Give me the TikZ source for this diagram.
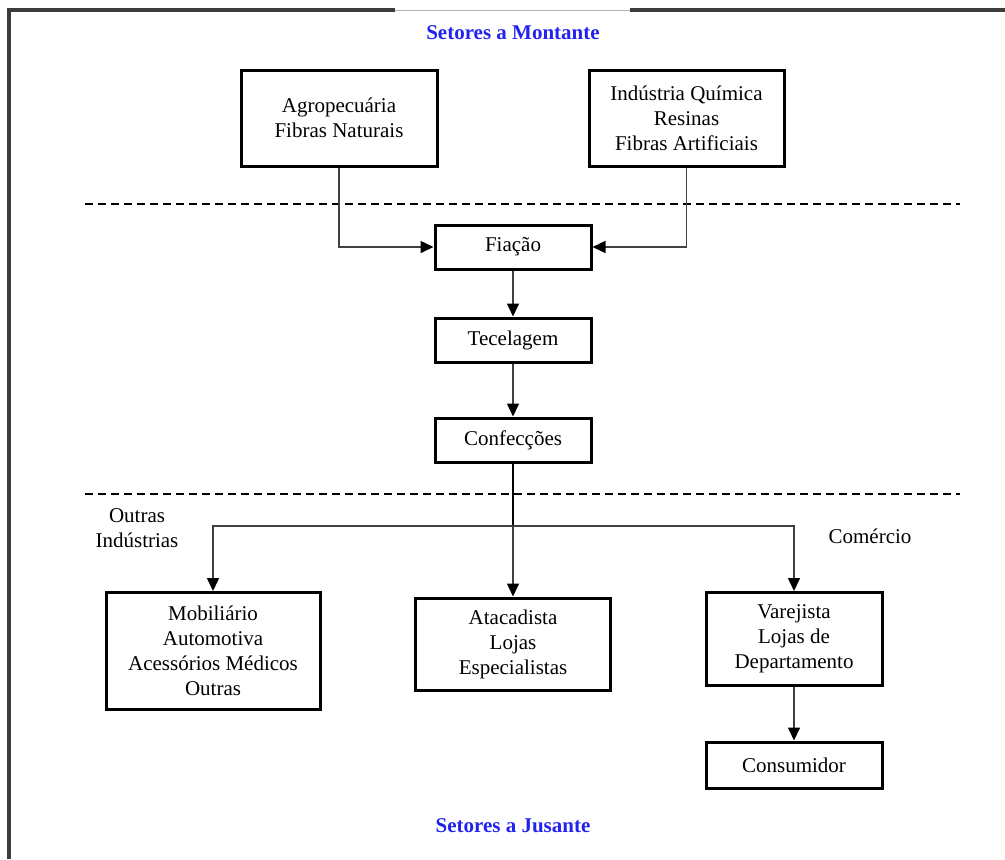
\documentclass[tikz,border=0pt]{standalone}
\usepackage{fontspec}
\setmainfont{Liberation Serif}
\usetikzlibrary{arrows.meta}
\definecolor{titleblue}{RGB}{35,35,240}
\definecolor{framegray}{RGB}{60,60,60}

\begin{document}
\begin{tikzpicture}[x=0.5pt, y=-0.5pt, >={Triangle[length=6.5pt,width=6pt,color=black]},
    font=\fontsize{10.5}{12.5}\selectfont,
    box/.style={draw, line width=1.5pt, align=center, inner sep=0pt},
    link/.style={->, line width=0.75pt, draw=black!75},
    title/.style={text=titleblue, font=\fontsize{10.5}{12.5}\selectfont\bfseries},
    sep/.style={dashed, line width=0.7pt, dash pattern=on 4pt off 2.5pt}]
  \useasboundingbox (0,0) rectangle (1005,859);
  % Frame
  \draw[framegray, line width=1.7pt] (9,859) -- (9,10) -- (395,10);
  \draw[framegray, line width=1.7pt] (630,10) -- (1005,10);
  \draw[black!30, line width=0.4pt] (395,10) -- (630,10);
  % Titles
  \node[title] (montante) at (513,33) {Setores a Montante};
  \node[title] (jusante) at (513,826) {Setores a Jusante};
  % Upstream sectors
  \node[box, minimum width=98pt, minimum height=48pt] (agro) at (339,118)
    {Agropecuária\\Fibras Naturais};
  \node[box, minimum width=97.5pt, minimum height=48pt] (quim) at (686.5,118)
    {Indústria Química\\Resinas\\Fibras Artificiais};
  % Main chain
  \node[box, minimum width=78pt, minimum height=22pt] (fiacao) at (513,247) {Fiação};
  \node[box, minimum width=78pt, minimum height=22pt] (tecel) at (513,340) {Tecelagem};
  \node[box, minimum width=78pt, minimum height=22pt] (confec) at (513,440) {Confecções};
  % Downstream sectors
  \node[box, minimum width=107pt, minimum height=58.5pt] (mobil) at (213,651)
    {Mobiliário\\Automotiva\\Acessórios Médicos\\Outras};
  \node[box, minimum width=97.5pt, minimum height=46pt] (atac) at (513,644)
    {Atacadista\\Lojas\\Especialistas};
  \node[box, minimum width=88pt, minimum height=46.5pt] (varej) at (794,639)
    {Varejista\\Lojas de\\Departamento};
  \node[box, minimum width=88pt, minimum height=23pt] (consum) at (794,765) {Consumidor};
  % Side labels
  \node[align=center] (outras) at (137,528) {Outras\\Indústrias};
  \node (comercio) at (870,536) {Comércio};
  % Separators
  \draw[sep] (85,204) -- (960,204);
  \draw[sep] (85,494) -- (960,494);
  % Connectors
  \draw[link] (agro.south) |- (fiacao.west);
  \draw[link] (quim.south) |- (fiacao.east);
  \draw[link] (fiacao) -- (tecel);
  \draw[link] (tecel) -- (confec);
  \coordinate (branch) at (513,526);
  \draw[line width=1pt] (confec.south) -- (branch);
  \draw[link] (branch) -- (atac.north);
  \draw[link] (branch) -| (mobil.north);
  \draw[link] (branch) -| (varej.north);
  \draw[link] (varej) -- (consum);
\end{tikzpicture}
\end{document}
